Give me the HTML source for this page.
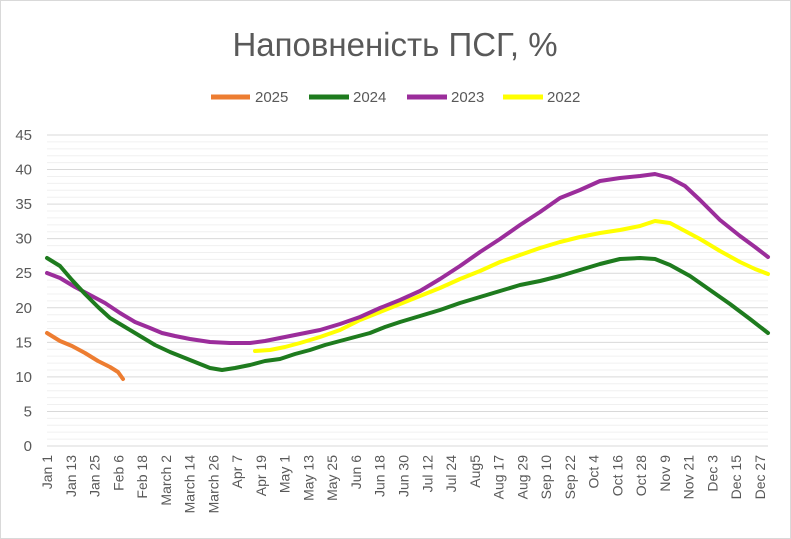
<!DOCTYPE html>
<html><head><meta charset="utf-8"><style>
html,body{margin:0;padding:0;background:#fff}
svg{display:block;font-family:"Liberation Sans",Arial,sans-serif}
</style></head><body>
<svg width="791" height="539" viewBox="0 0 791 539" xmlns="http://www.w3.org/2000/svg">
<rect x="0.5" y="0.5" width="790" height="538" fill="#fff" stroke="#d9d9d9"/>
<text x="395" y="56" text-anchor="middle" font-size="33" fill="#595959">Наповненість ПСГ, %</text>
<g font-size="15" fill="#595959">
<line x1="211" y1="97" x2="250" y2="97" stroke="#ed7d31" stroke-width="5"/><text x="255" y="102">2025</text>
<line x1="309" y1="97" x2="349" y2="97" stroke="#1e7b1e" stroke-width="5"/><text x="353" y="102">2024</text>
<line x1="407" y1="97" x2="447" y2="97" stroke="#9b2d9b" stroke-width="5"/><text x="451" y="102">2023</text>
<line x1="503" y1="97" x2="543" y2="97" stroke="#ffff00" stroke-width="5"/><text x="547" y="102">2022</text>
</g>
<g id="grid"></g>
<g id="ylab" font-size="15" fill="#595959" text-anchor="end"></g>
<g id="xlab" font-size="14" fill="#595959"></g>
<g fill="none" stroke-width="4" stroke-linejoin="round" stroke-linecap="round">
<polyline stroke="#ffff00" points="255,351 270,350 285,347 300,343 320,337 340,330 360,320 380,312 400,304 420,296 440,288 460,279 480,271 500,262 520,255 540,248 560,242 580,237 600,233 620,230 640,226 655,221 670,223 685,231 700,239 720,251 740,262 755,269 768,274"/>
<polyline stroke="#9b2d9b" points="47,273 60,278 75,287 90,295 105,303 120,313 135,322 150,328 162,333 175,336 190,339 210,342 230,343 250,343 265,341 280,338 300,334 320,330 340,324 360,317 380,308 400,300 420,291 440,279 460,266 480,252 500,239 520,225 540,212 560,198 580,190 600,181 620,178 640,176 655,174 670,178 685,186 700,200 720,220 740,236 755,247 768,257"/>
<polyline stroke="#1e7b1e" points="47,258 60,266 72,280 85,294 98,307 110,318 125,327 140,336 155,345 170,352 185,358 200,364 210,368 222,370 235,368 250,365 265,361 280,359 295,354 310,350 325,345 340,341 355,337 370,333 385,327 400,322 420,316 440,310 460,303 480,297 500,291 520,285 540,281 560,276 580,270 600,264 620,259 640,258 655,259 670,265 690,276 710,290 730,304 750,319 768,333"/>
<polyline stroke="#ed7d31" points="47,333 60,341 72,346 85,353 98,361 110,367 118,372 123,379"/>
</g>
</svg>
<script>
var ns="http://www.w3.org/2000/svg",g=document.getElementById("grid"),yl=document.getElementById("ylab"),xl=document.getElementById("xlab");
function el(t,a,p){var e=document.createElementNS(ns,t);for(var k in a)e.setAttribute(k,a[k]);p.appendChild(e);return e;}
for(var v=0;v<=45;v++){var y=446-v*311/45;el("line",{x1:47,x2:768,y1:y,y2:y,stroke:v%5?"#f0f0f0":"#d9d9d9","stroke-width":1},g);
if(v%5==0){var t=el("text",{x:32,y:y+5},yl);t.textContent=v;}}
var labs=["Jan 1","Jan 13","Jan 25","Feb 6","Feb 18","March 2","March 14","March 26","Apr 7","Apr 19","May 1","May 13","May 25","Jun 6","Jun 18","Jun 30","Jul 12","Jul 24","Aug5","Aug 17","Aug 29","Sep 10","Sep 22","Oct 4","Oct 16","Oct 28","Nov 9","Nov 21","Dec 3","Dec 15","Dec 27"];
labs.forEach(function(s,i){var x=47+i*713/30+5;var t=el("text",{x:0,y:0,"text-anchor":"end",transform:"translate("+x+",455) rotate(-90)"},xl);t.textContent=s;});
</script>
</body></html>
